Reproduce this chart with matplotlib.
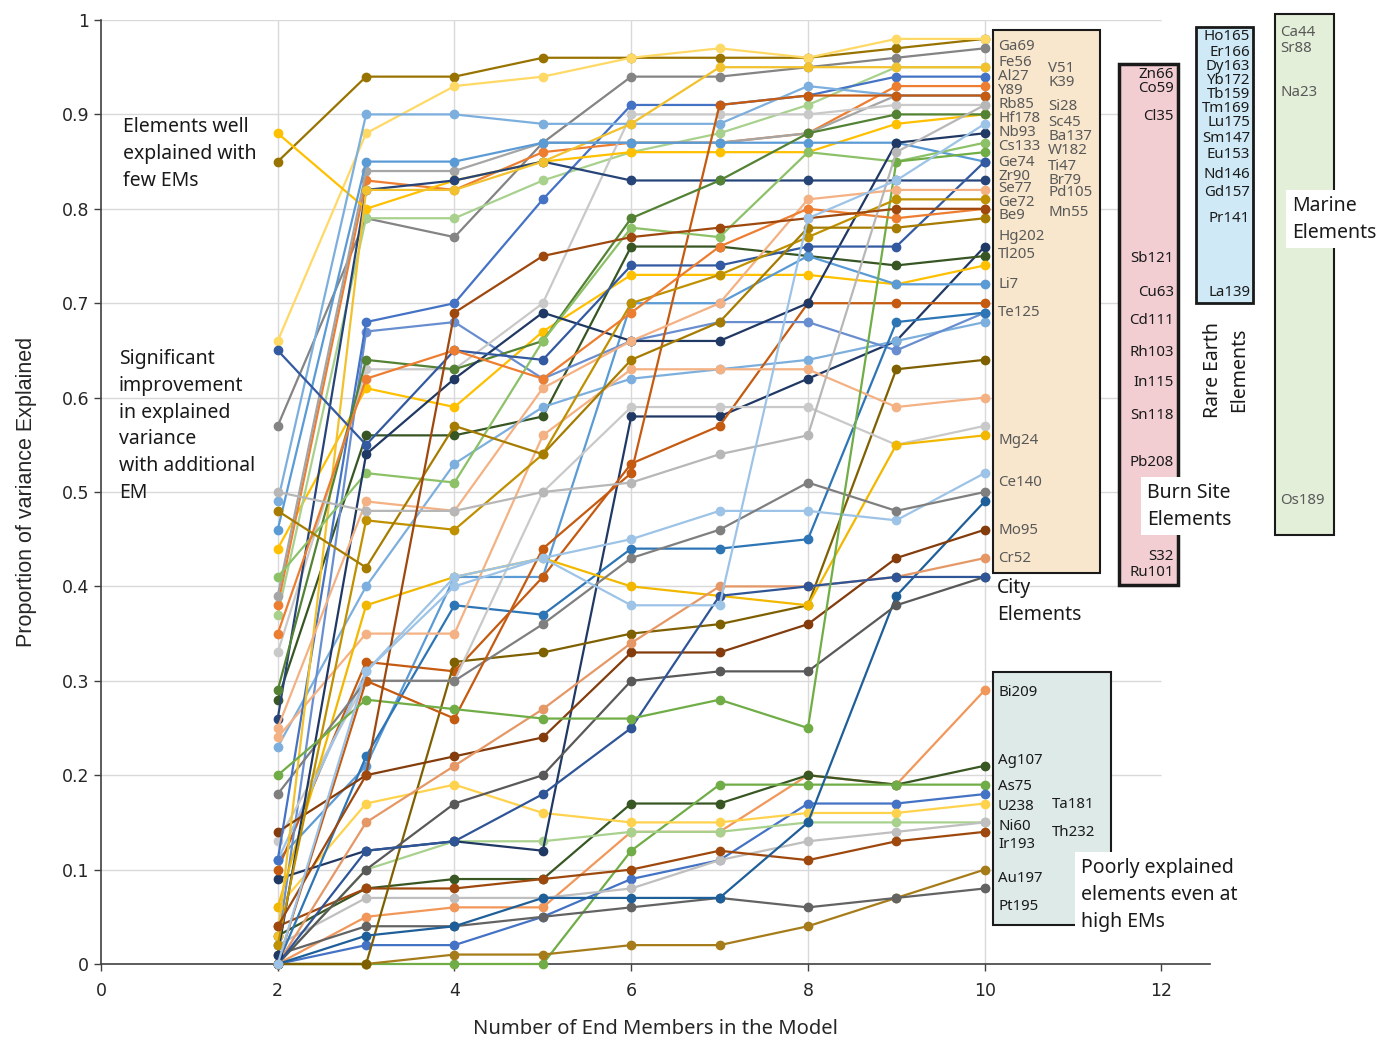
import matplotlib
matplotlib.use('Agg')
import matplotlib.pyplot as plt
from matplotlib.patches import Rectangle

# ---------------------------------------------------------------------------
# Data: proportion of variance explained vs. number of end members (EMs)
# ---------------------------------------------------------------------------
EM_COUNTS = [2, 3, 4, 5, 6, 7, 8, 9, 10]

# elements that end up well explained (>= ~0.79 at 10 EMs)
UPPER_VALUES = [
    [.85, .94, .94, .96, .96, .96, .96, .97, .98],
    [.66, .88, .93, .94, .96, .97, .96, .98, .98],
    [.57, .79, .77, .87, .94, .94, .95, .96, .97],
    [.37, .79, .79, .83, .86, .88, .91, .95, .95],
    [.11, .68, .70, .81, .91, .91, .92, .94, .94],
    [.38, .83, .82, .86, .87, .87, .88, .93, .93],
    [.39, .84, .84, .87, .87, .87, .88, .92, .92],
    [.33, .63, .63, .70, .90, .90, .90, .91, .91],
    [.88, .80, .83, .85, .86, .86, .86, .89, .90],
    [.49, .90, .90, .89, .89, .89, .93, .92, .92],
    [.26, .82, .83, .85, .83, .83, .83, .83, .83],
    [.03, .82, .82, .85, .89, .95, .95, .95, .95],
    [.46, .85, .85, .87, .87, .87, .87, .87, .85],
    [.00, .30, .26, .44, .52, .91, .92, .92, .92],
    [.29, .64, .63, .66, .79, .83, .88, .90, .90],
    [.41, .52, .51, .66, .78, .77, .86, .85, .87],
    [.01, .54, .62, .69, .66, .66, .70, .87, .88],
    [.20, .28, .27, .26, .26, .28, .25, .85, .86],
    [.65, .55, .65, .64, .74, .74, .76, .76, .85],
    [.25, .49, .48, .61, .66, .70, .81, .82, .82],
    [.02, .47, .46, .54, .70, .73, .77, .81, .81],
    [.35, .62, .65, .62, .69, .76, .80, .79, .80],
    [.48, .42, .57, .54, .64, .68, .78, .78, .79],
    [.50, .48, .48, .50, .51, .54, .56, .86, .91],
    [.04, .20, .69, .75, .77, .78, .79, .80, .80],
    [.00, .31, .40, .43, .38, .38, .79, .83, .89],
]
UPPER_COLORS = [
    '#997300', '#FFD966', '#848484', '#A9D18E', '#4472C4', '#ED7D31',
    '#A5A5A5', '#C9C9C9', '#FFC000', '#7CAFDD', '#264478', '#F2C12E',
    '#5B9BD5', '#C55A11', '#548235', '#8CC168', '#203864', '#70AD47',
    '#335AA1', '#F4B183', '#BF9000', '#ED7D31', '#A67C00', '#B7B7B7',
    '#9E480E', '#9DC3E6',
]

# elements with a strong gain from extra EMs (mid range at 10 EMs)
MIDDLE_VALUES = [
    [.09, .12, .13, .12, .58, .58, .62, .66, .76],
    [.28, .56, .56, .58, .76, .76, .75, .74, .75],
    [.44, .61, .59, .67, .73, .73, .73, .72, .74],
    [.23, .40, .53, .59, .62, .63, .64, .66, .68],
    [.11, .21, .41, .41, .70, .70, .75, .72, .72],
    [.10, .32, .31, .41, .53, .57, .70, .70, .70],
    [.02, .67, .68, .62, .66, .68, .68, .65, .69],
    [.00, .22, .38, .37, .44, .44, .45, .68, .69],
    [.00, .00, .32, .33, .35, .36, .38, .63, .64],
    [.24, .35, .35, .56, .63, .63, .63, .59, .60],
    [.13, .30, .30, .50, .59, .59, .59, .55, .57],
    [.06, .38, .41, .43, .40, .39, .38, .55, .56],
    [.11, .31, .41, .43, .45, .48, .48, .47, .52],
    [.18, .30, .30, .36, .43, .46, .51, .48, .50],
    [.00, .03, .04, .07, .07, .07, .15, .39, .49],
    [.14, .20, .22, .24, .33, .33, .36, .43, .46],
    [.00, .15, .21, .27, .34, .40, .40, .41, .43],
    [.00, .10, .17, .20, .30, .31, .31, .38, .41],
    [.00, .12, .13, .18, .25, .39, .40, .41, .41],
]
MIDDLE_COLORS = [
    '#203864', '#375623', '#FFC000', '#7CAFDD', '#5B9BD5', '#C55A11',
    '#698ED0', '#2E75B6', '#7F6000', '#F4B183', '#C9C9C9', '#F2B800',
    '#9DC3E6', '#7F7F7F', '#1F5F99', '#843C0C', '#E59866', '#595959',
    '#2F5597',
]

# poorly explained elements even at high EMs
LOWER_VALUES = [
    [.00, .05, .06, .06, .14, .14, .20, .19, .29],
    [.03, .08, .09, .09, .17, .17, .20, .19, .21],
    [.00, .00, .00, .00, .12, .19, .19, .19, .19],
    [.00, .02, .02, .05, .09, .11, .17, .17, .18],
    [.06, .17, .19, .16, .15, .15, .16, .16, .17],
    [.00, .10, .13, .13, .14, .14, .15, .15, .15],
    [.02, .07, .07, .07, .08, .11, .13, .14, .15],
    [.04, .08, .08, .09, .10, .12, .11, .13, .14],
    [.00, .00, .01, .01, .02, .02, .04, .07, .10],
    [.01, .04, .04, .05, .06, .07, .06, .07, .08],
]
LOWER_COLORS = [
    '#F1975A', '#385723', '#70AD47', '#4472C4', '#FFD24D', '#A9D18E',
    '#BFBFBF', '#9E480E', '#A67C1A', '#636363',
]

CITY_LEFT = ['Ga69', 'Fe56', 'Al27', 'Y89', 'Rb85', 'Hf178', 'Nb93', 'Cs133',
             'Ge74', 'Zr90', 'Se77', 'Ge72', 'Be9', 'Hg202', 'Tl205', 'Li7',
             'Te125', 'Mg24', 'Ce140', 'Mo95', 'Cr52']
CITY_RIGHT = ['V51', 'K39', 'Si28', 'Sc45', 'Ba137', 'W182', 'Ti47', 'Br79',
              'Pd105', 'Mn55']
BURN = ['Zn66', 'Co59', 'Cl35', 'Sb121', 'Cu63', 'Cd111', 'Rh103', 'In115',
        'Sn118', 'Pb208', 'S32', 'Ru101']
RARE_EARTH = ['Ho165', 'Er166', 'Dy163', 'Yb172', 'Tb159', 'Tm169', 'Lu175',
              'Sm147', 'Eu153', 'Nd146', 'Gd157', 'Pr141', 'La139']
MARINE = ['Ca44', 'Sr88', 'Na23', 'Os189']
POOR_LEFT = ['Bi209', 'Ag107', 'As75', 'U238', 'Ni60', 'Ir193', 'Au197', 'Pt195']
POOR_RIGHT = ['Ta181', 'Th232']

# ---------------------------------------------------------------------------
# Figure
# ---------------------------------------------------------------------------
W, H = 1382, 1042
fig = plt.figure(figsize=(W / 100, H / 100), dpi=100)
ax = fig.add_axes([101 / W, 1 - 964 / H, (1210 - 101) / W, (964 - 20) / H])


def fx(px):
    return px / W


def fy(py):
    return 1 - py / H


for group, colors in [(LOWER_VALUES, LOWER_COLORS),
                      (MIDDLE_VALUES, MIDDLE_COLORS),
                      (UPPER_VALUES, UPPER_COLORS)]:
    for vals, c in zip(group, colors):
        ax.plot(EM_COUNTS, vals, color=c, lw=1.6, marker='o', ms=6,
                mec=c, mfc=c, zorder=3, clip_on=False)

ax.set_xlim(0, 12.55)
ax.set_ylim(0, 1)
ax.set_xticks(range(0, 13, 2))
ax.set_yticks([i / 10 for i in range(11)])
ax.set_yticklabels(['0', '0.1', '0.2', '0.3', '0.4', '0.5', '0.6', '0.7',
                    '0.8', '0.9', '1'])
ax.hlines([i / 10 for i in range(1, 11)], 0, 12, color='#D9D9D9', lw=1,
          zorder=1)
ax.vlines([2, 4, 6, 8, 10], 0, 1, color='#D9D9D9', lw=1, zorder=1)
for s in ['top', 'right']:
    ax.spines[s].set_visible(False)
for s in ['left', 'bottom']:
    ax.spines[s].set_color('#404040')
    ax.spines[s].set_linewidth(1.2)
ax.tick_params(axis='both', direction='out', length=5, width=1,
               color='#404040', labelsize=12.5, labelcolor='#262626')
ax.tick_params(axis='x', pad=8)
ax.set_xlabel('Number of End Members in the Model', fontsize=14.5,
              family='Noto Sans', color='#262626', labelpad=14)
ax.set_ylabel('Proportion of variance Explained', fontsize=15.5,
              family='Liberation Sans', color='#262626', labelpad=18)

# ---------------------------------------------------------------------------
# Group boxes (pixel layout of the original)
# ---------------------------------------------------------------------------
def box(x0, y0, x1, y1, fc, lw):
    fig.add_artist(Rectangle((fx(x0), fy(y1)), fx(x1) - fx(x0),
                             fy(y0) - fy(y1), transform=fig.transFigure,
                             fc=fc, ec='#1A1A1A', lw=lw, zorder=2))


box(993, 30, 1100, 573, '#F9E7CD', 1.5)
box(1119, 64, 1178, 585, '#F2CED3', 2.5)
box(1196, 27, 1253, 303, '#CFEAF6', 2.0)
box(1275, 14, 1334, 535, '#E3EFD9', 1.5)
box(993, 672, 1111, 925, '#DDEAE8', 1.5)

lab = dict(family='Noto Sans', fontsize=10.8, va='center', zorder=4)

city_left_y = [46, 62, 76, 90, 104, 118, 133, 147, 162, 176, 189, 202, 215,
               236, 255, 285, 313, 441, 483, 531, 558]
city_right_y = [68, 82, 107, 122, 137, 151, 166, 180, 193, 213]
for t, py in zip(CITY_LEFT, city_left_y):
    fig.text(fx(998), fy(py), t, color='#595959', ha='left', **lab)
for t, py in zip(CITY_RIGHT, city_right_y):
    fig.text(fx(1048), fy(py), t, color='#595959', ha='left', **lab)

burn_y = [75, 89, 116, 259, 293, 321, 353, 383, 415, 463, 556, 572]
for t, py in zip(BURN, burn_y):
    fig.text(fx(1174), fy(py), t, color='#1A1A1A', ha='right', **lab)

ree_y = [36, 52, 67, 81, 94, 108, 122, 138, 154, 175, 192, 218, 293]
for t, py in zip(RARE_EARTH, ree_y):
    fig.text(fx(1250), fy(py), t, color='#1A1A1A', ha='right', **lab)

marine_y = [33, 48, 93, 500]
for t, py in zip(MARINE, marine_y):
    fig.text(fx(1280), fy(py), t, color='#595959', ha='left', **lab)

poor_left_y = [692, 760, 786, 807, 826, 845, 878, 906]
poor_right_y = [804, 832]
for t, py in zip(POOR_LEFT, poor_left_y):
    fig.text(fx(998), fy(py), t, color='#1A1A1A', ha='left', **lab)
for t, py in zip(POOR_RIGHT, poor_right_y):
    fig.text(fx(1052), fy(py), t, color='#1A1A1A', ha='left', **lab)

# ---------------------------------------------------------------------------
# Annotations
# ---------------------------------------------------------------------------
note = dict(family='Noto Sans', fontsize=14, color='#1A1A1A',
            linespacing=1.45, zorder=5)
white = dict(fc='white', ec='none', pad=4)

fig.text(fx(123), fy(117), 'Elements well\nexplained with\nfew EMs',
         ha='left', va='top', **note)
fig.text(fx(119), fy(349),
         'Significant\nimprovement\nin explained\nvariance\nwith additional\nEM',
         ha='left', va='top', **note)
fig.text(fx(997), fy(578), 'City\nElements', ha='left', va='top', **note)
fig.text(fx(1147), fy(483), 'Burn Site\nElements', ha='left', va='top',
         bbox=white, **note)
fig.text(fx(1226), fy(370), 'Rare Earth\nElements', ha='center',
         va='center', rotation=90, multialignment='center', **note)
fig.text(fx(1292), fy(196), 'Marine\nElements', ha='left', va='top',
         bbox=white, **note)
fig.text(fx(1081), fy(858), 'Poorly explained\nelements even at\nhigh EMs',
         ha='left', va='top', bbox=white, **note)

fig.savefig('out.png', dpi=100)
